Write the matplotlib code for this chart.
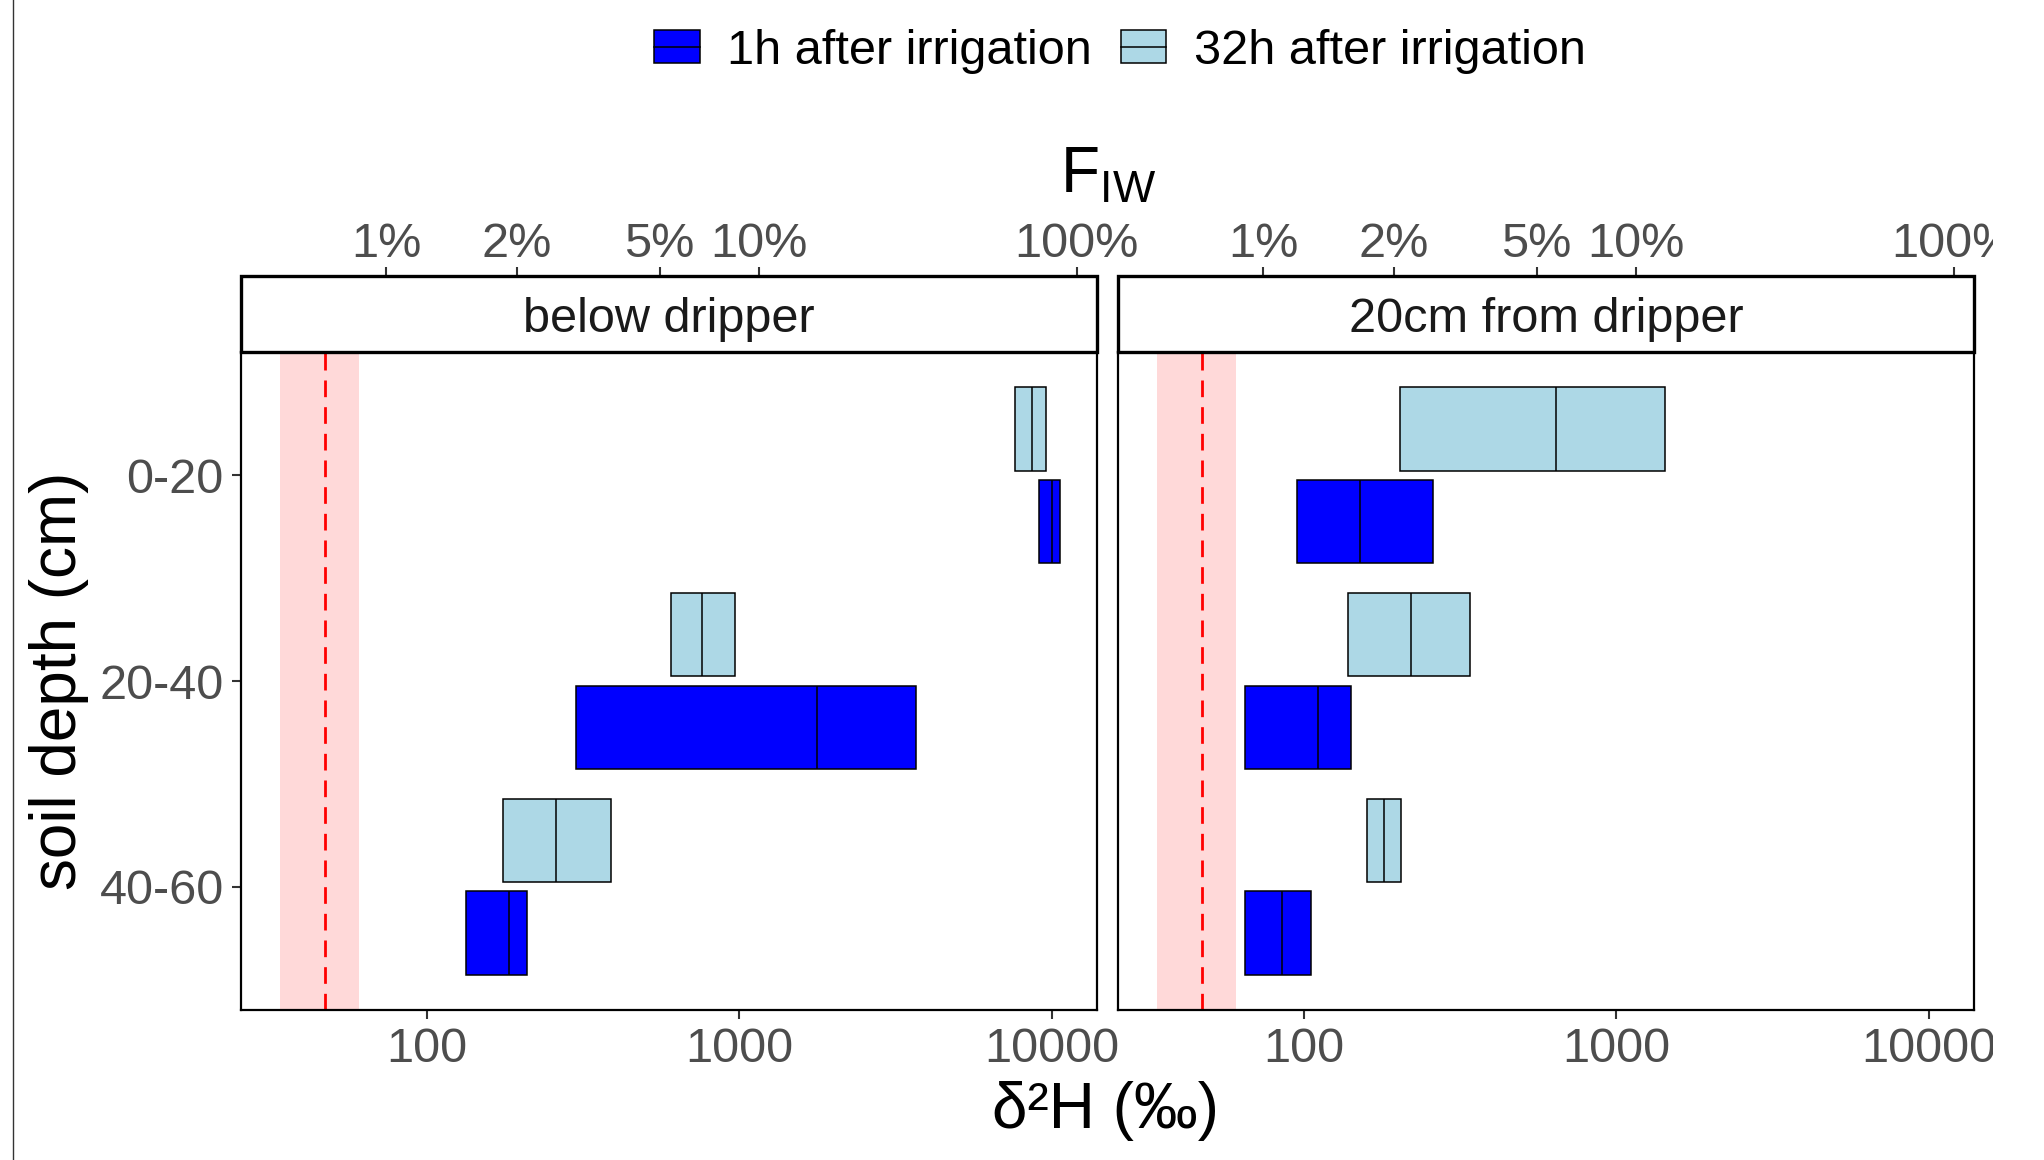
import matplotlib
matplotlib.use("Agg")
import matplotlib.pyplot as plt
from matplotlib.patches import Rectangle
from matplotlib.lines import Line2D
from matplotlib.ticker import NullLocator
import numpy as np

plt.rcParams['font.family'] = ['Liberation Sans', 'DejaVu Sans']

# DATA (delta values on log axis)
depths = ['0-20', '20-40', '40-60']
panels = ['below dripper', '20cm from dripper']

# below dripper
bd_1h_q1 = [9100, 300, 134]
bd_1h_med = [10000, 1775, 183]
bd_1h_q3 = [10600, 3680, 210]
bd_32h_q1 = [7600, 605, 176]
bd_32h_med = [8630, 760, 260]
bd_32h_q3 = [9550, 970, 390]

# 20cm from dripper
fd_1h_q1 = [95, 65, 65]
fd_1h_med = [152, 111, 85.5]
fd_1h_q3 = [259, 142, 106]
fd_32h_q1 = [203, 139, 160]
fd_32h_med = [641, 221, 181]
fd_32h_q3 = [1430, 340, 205]

# background range of soil water and its mean
bg_low = 34
bg_high = 61
bg_mean = 47.5

fiw_ticks = [0.01, 0.02, 0.05, 0.1, 1.0]
fiw_labels = ['1%', '2%', '5%', '10%', '100%']
x_ticks = [100, 1000, 10000]

FIW_OFFSET = 46.0
FIW_SCALE = 12040.0

COL_1H = '#0000FF'
COL_32H = '#ADD8E6'
TICK_COL = '#4D4D4D'
TICK_SIZE = 35
TITLE_SIZE = 46
TEXT_SIZE = 35


def to_fiw(x):
    return (np.asarray(x) + FIW_OFFSET) / FIW_SCALE


def from_fiw(f):
    return np.asarray(f) * FIW_SCALE - FIW_OFFSET


W, H = 2044, 1160
fig = plt.figure(figsize=(W / 100, H / 100), dpi=100)

panel_top = 352
panel_bot = 1010
strip_frac = (352 - 276) / (panel_bot - panel_top)
lefts = [241, 1118]
rights = [1097, 1974]

data = [
    (bd_1h_q1, bd_1h_med, bd_1h_q3, bd_32h_q1, bd_32h_med, bd_32h_q3),
    (fd_1h_q1, fd_1h_med, fd_1h_q3, fd_32h_q1, fd_32h_med, fd_32h_q3),
]

ypos = np.arange(len(depths))
dodge = 0.225
bh = 0.405

for i in range(2):
    ax = fig.add_axes([lefts[i] / W, 1 - panel_bot / H,
                       (rights[i] - lefts[i]) / W, (panel_bot - panel_top) / H])
    ax.set_xscale('log')
    ax.set_xlim(25.5, 13930)
    ax.set_ylim(2.6, -0.6)

    h1_q1, h1_med, h1_q3, h32_q1, h32_med, h32_q3 = data[i]

    ax.axvspan(bg_low, bg_high, color='#FFD9D9', lw=0, zorder=0)
    ax.axvline(bg_mean, color='red', lw=2.0, dashes=(6, 3.6), zorder=1)

    # 32h boxes above, 1h boxes below each depth
    y32 = ypos - dodge
    y1 = ypos + dodge
    ax.barh(y32, np.array(h32_q3) - np.array(h32_q1), left=h32_q1, height=bh,
            color=COL_32H, edgecolor='black', lw=1.1, zorder=2)
    ax.vlines(h32_med, y32 - bh / 2, y32 + bh / 2, color='black', lw=1.1, zorder=3)
    ax.barh(y1, np.array(h1_q3) - np.array(h1_q1), left=h1_q1, height=bh,
            color=COL_1H, edgecolor='black', lw=1.1, zorder=2)
    ax.vlines(h1_med, y1 - bh / 2, y1 + bh / 2, color='black', lw=1.1, zorder=3)

    ax.set_xticks(x_ticks)
    ax.set_xticklabels([str(t) for t in x_ticks])
    ax.xaxis.set_minor_locator(NullLocator())
    ax.tick_params(axis='x', direction='out', length=6.5, width=1.5, color='#333333',
                   labelsize=TICK_SIZE, labelcolor=TICK_COL, pad=6)
    ax.set_yticks(ypos)
    if i == 0:
        ax.set_yticklabels(depths)
        ax.tick_params(axis='y', direction='out', length=6.5, width=1.5, color='#333333',
                       labelsize=TICK_SIZE, labelcolor=TICK_COL, pad=6)
    else:
        ax.tick_params(axis='y', left=False, labelleft=False)

    for sp in ax.spines.values():
        sp.set_color('black')
        sp.set_linewidth(1.6)

    # facet strip
    ax.add_patch(Rectangle((0, 1), 1, strip_frac, transform=ax.transAxes,
                           facecolor='white', edgecolor='black', lw=2.4,
                           clip_on=False, zorder=5))
    ax.text(0.5, 1 + strip_frac / 2 - 0.008, panels[i], transform=ax.transAxes,
            ha='center', va='center', fontsize=TEXT_SIZE, color='#1A1A1A', zorder=6)

    # secondary axis with irrigation water fraction
    sec = ax.secondary_xaxis(1 + strip_frac, functions=(to_fiw, from_fiw))
    sec.set_xticks(fiw_ticks)
    sec.set_xticklabels(fiw_labels)
    sec.xaxis.set_minor_locator(NullLocator())
    sec.tick_params(axis='x', direction='out', length=6.5, width=1.5, color='#333333',
                    labelsize=TICK_SIZE, labelcolor=TICK_COL, pad=0)
    for sp in sec.spines.values():
        sp.set_visible(False)

fig.text(1105 / W, 1 - 1111 / H, 'δ²H (‰)', ha='center', va='center', fontsize=TITLE_SIZE)
fig.text(59 / W, 1 - 681 / H, 'soil depth (cm)', ha='center', va='center',
         rotation=90, fontsize=TITLE_SIZE)
fig.text(1108 / W, 1 - 176 / H, r'$\mathregular{F_{IW}}$', ha='center', va='center',
         fontsize=TITLE_SIZE)

# legend
h1 = (Rectangle((0, 0), 1, 1, facecolor=COL_1H, edgecolor='black', lw=1.1),
      Line2D([], [], color='black', lw=1.1))
h32 = (Rectangle((0, 0), 1, 1, facecolor=COL_32H, edgecolor='black', lw=1.1),
       Line2D([], [], color='black', lw=1.1))
fig.legend([h1, h32], ['1h after irrigation', '32h after irrigation'],
           loc='center', bbox_to_anchor=(1120 / W, 1 - 51 / H), ncol=2,
           frameon=False, fontsize=TEXT_SIZE, handlelength=0.94, handleheight=0.68,
           handletextpad=0.57, columnspacing=0.59, borderpad=0)

# thin line on the left edge and cropped right margin as in the original image
fig.add_artist(Line2D([12.5 / W, 12.5 / W], [0, 1], transform=fig.transFigure,
                      color='#333333', lw=1))
fig.add_artist(Rectangle((1993 / W, 0), 1, 1, transform=fig.transFigure,
                         facecolor='white', edgecolor='none', zorder=10))

fig.savefig('out.png', dpi=100, facecolor='white')
